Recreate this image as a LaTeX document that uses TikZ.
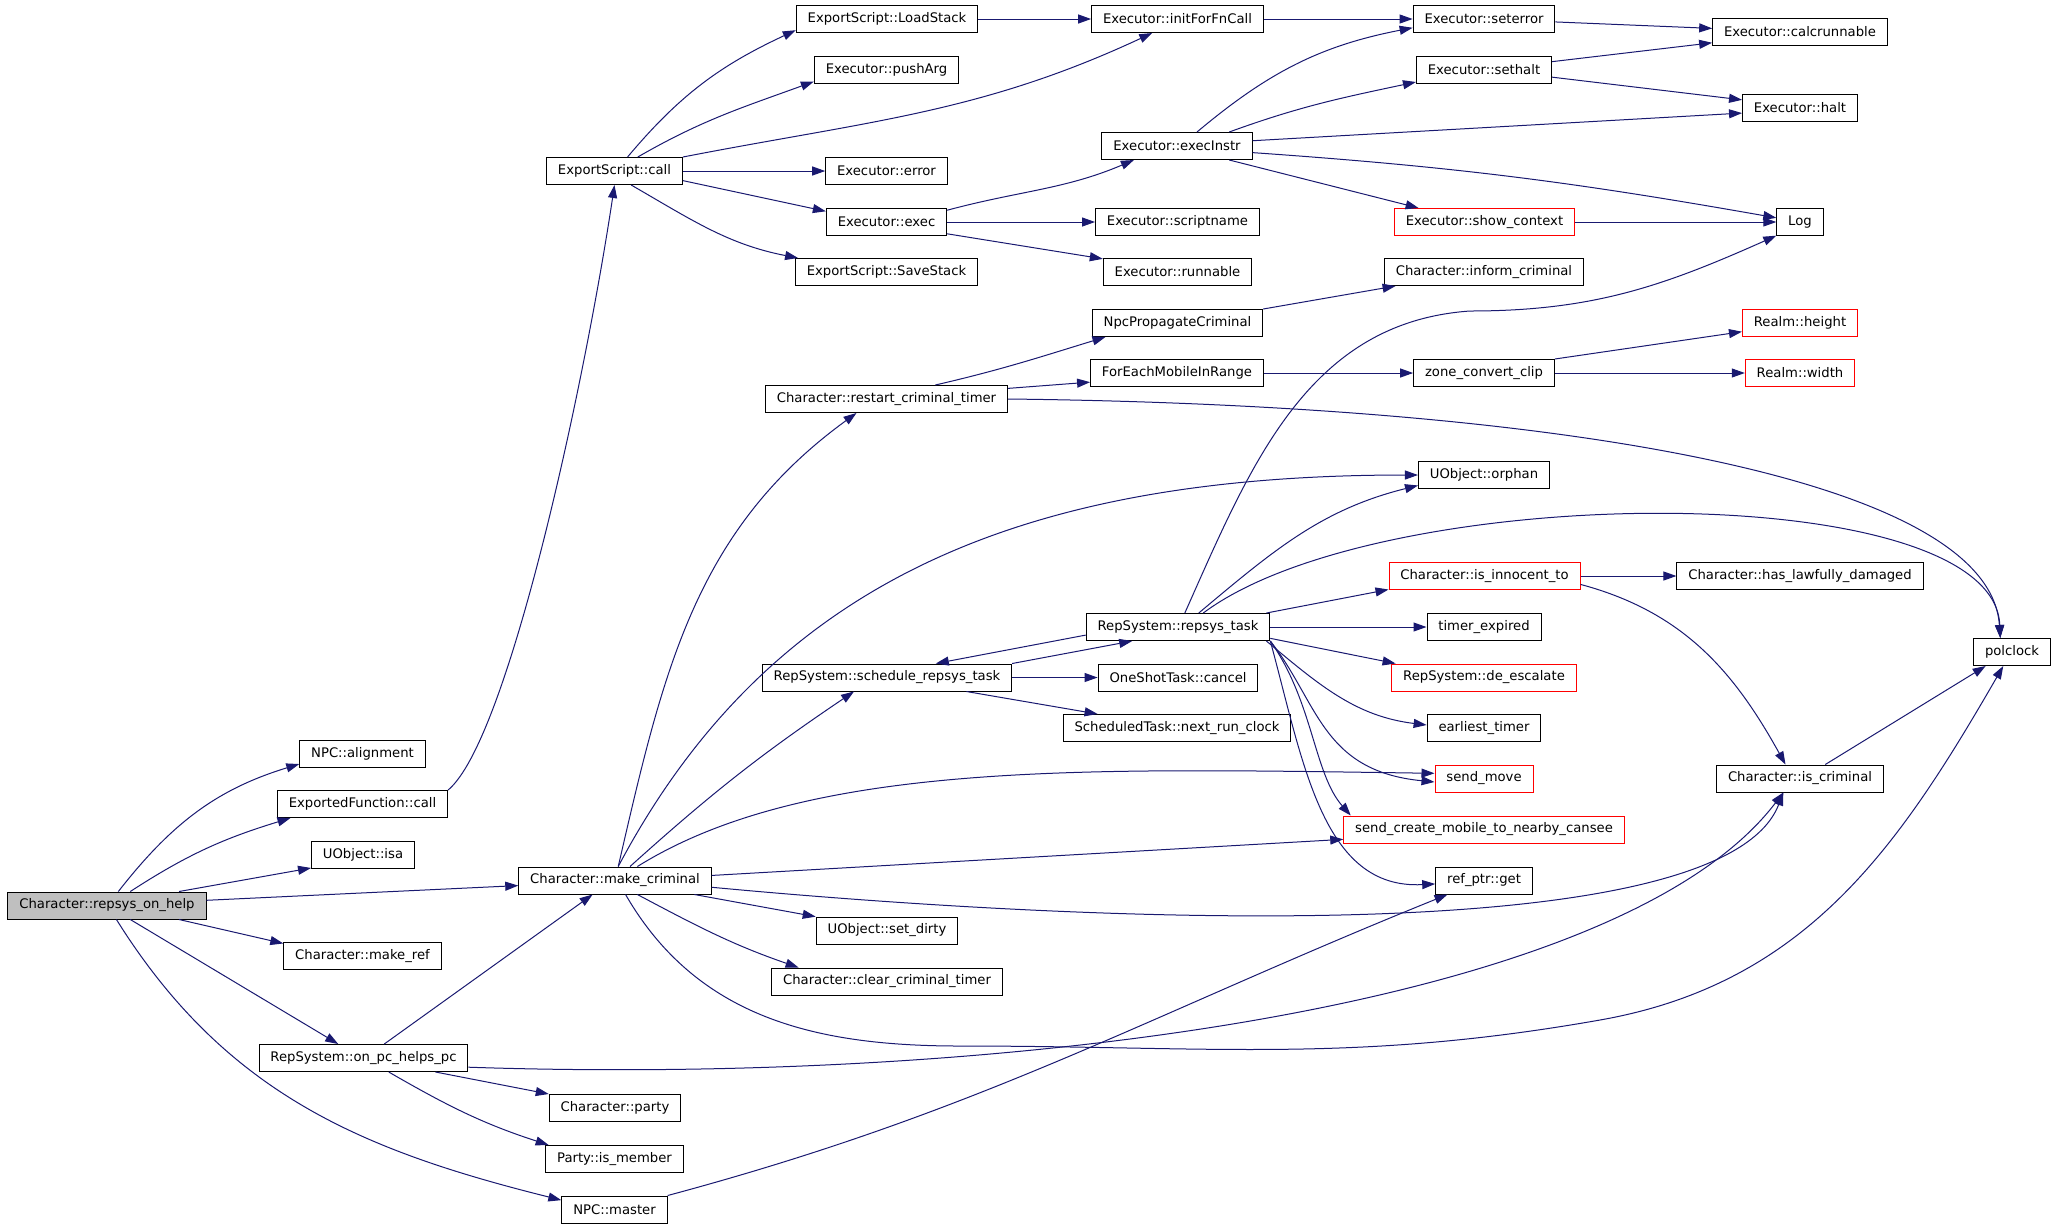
\documentclass[tikz,border=0pt]{standalone}
\usepackage{fontspec}
\setmainfont{DejaVu Sans}
\usetikzlibrary{arrows.meta}
\definecolor{edgeblue}{RGB}{25,25,112}
\definecolor{rootgray}{RGB}{191,191,191}

\begin{document}
\begin{tikzpicture}[x=0.5pt,y=-0.5pt,
    fn/.style={draw,line width=0.5pt,inner xsep=5.7pt,inner ysep=0pt,minimum height=13.5pt,font=\fontsize{6.6}{8}\selectfont},
    hot/.style={fn,draw=red},
    root/.style={fn,fill=rootgray},
    call/.style={edgeblue,line width=0.5pt,-{Triangle[length=6.5pt,width=4.5pt]}}]
  \useasboundingbox (0,0) rectangle (2056,1228);

  \node[root] (r) at (107,905.5) {Character::repsys\_on\_help};

  \node[fn] (al) at (362.5,754) {NPC::alignment};
  \node[fn] (efc) at (362.5,804) {ExportedFunction::call};
  \node[fn] (isa) at (363,855) {UObject::isa};
  \node[fn] (mref) at (362.5,956) {Character::make\_ref};
  \node[fn] (oph) at (363.5,1058) {RepSystem::on\_pc\_helps\_pc};

  \node[fn] (esc) at (614.5,171) {ExportScript::call};
  \node[fn] (mc) at (615,880.5) {Character::make\_criminal};
  \node[fn] (party) at (615,1108) {Character::party};
  \node[fn] (ism) at (614.5,1159) {Party::is\_member};
  \node[fn] (nm) at (614.5,1209.5) {NPC::master};

  \node[fn] (ls) at (887,19) {ExportScript::LoadStack};
  \node[fn] (pa) at (886.5,70) {Executor::pushArg};
  \node[fn] (err) at (886.5,171) {Executor::error};
  \node[fn] (ex) at (886.5,222) {Executor::exec};
  \node[fn] (ss) at (886.5,272) {ExportScript::SaveStack};
  \node[fn] (rct) at (886.5,399) {Character::restart\_criminal\_timer};
  \node[fn] (srt) at (887,677.5) {RepSystem::schedule\_repsys\_task};
  \node[fn] (sd) at (887,930.5) {UObject::set\_dirty};
  \node[fn] (cct) at (887,981.5) {Character::clear\_criminal\_timer};

  \node[fn] (init) at (1177.5,19) {Executor::initForFnCall};
  \node[fn] (xi) at (1177,146) {Executor::execInstr};
  \node[fn] (sn) at (1177.5,222) {Executor::scriptname};
  \node[fn] (run) at (1177.5,272) {Executor::runnable};
  \node[fn] (npc) at (1177.5,323) {NpcPropagateCriminal};
  \node[fn] (fem) at (1177,373) {ForEachMobileInRange};
  \node[fn] (rt) at (1178,627) {RepSystem::repsys\_task};
  \node[fn] (osc) at (1178,677.5) {OneShotTask::cancel};
  \node[fn] (nrc) at (1177,728) {ScheduledTask::next\_run\_clock};

  \node[fn] (se) at (1484,19) {Executor::seterror};
  \node[fn] (sh) at (1484,70) {Executor::sethalt};
  \node[hot] (sc) at (1484.5,222) {Executor::show\_context};
  \node[fn] (inf) at (1484,272) {Character::inform\_criminal};
  \node[fn] (zcc) at (1484,373) {zone\_convert\_clip};
  \node[fn] (orph) at (1484,475) {UObject::orphan};
  \node[hot] (iit) at (1484.5,576) {Character::is\_innocent\_to};
  \node[fn] (te) at (1484,627) {timer\_expired};
  \node[hot] (de) at (1484,677.5) {RepSystem::de\_escalate};
  \node[fn] (et) at (1484,728) {earliest\_timer};
  \node[hot] (sm) at (1484,778.5) {send\_move};
  \node[hot] (scm) at (1484,829.5) {send\_create\_mobile\_to\_nearby\_cansee};
  \node[fn] (rpg) at (1484,880.5) {ref\_ptr::get};

  \node[fn] (cr) at (1800,32) {Executor::calcrunnable};
  \node[fn] (halt) at (1800,108) {Executor::halt};
  \node[fn] (log) at (1800,222) {Log};
  \node[hot] (rh) at (1800,322.5) {Realm::height};
  \node[hot] (rw) at (1800,373) {Realm::width};
  \node[fn] (hld) at (1800,576) {Character::has\_lawfully\_damaged};
  \node[fn] (icrim) at (1800,778.5) {Character::is\_criminal};

  \node[fn] (pc) at (2012,652) {polclock};

  % repsys_on_help
  \draw[call] (r.51) to[out=52,in=197] (al.189);
  \draw[call] (r.31) to[out=33,in=197] (efc.191);
  \draw[call] (r.11) -- (isa.194);
  \draw[call] (r.3) -- (mc.183);
  \draw[call] (r.-11) -- (mref.171);
  \draw[call] (r.-31) -- (oph.151);
  \draw[call] (r.-56) to[out=-58,in=166] (nm.170);

  \draw[call] (efc.north east) .. controls +(60,-50) and +(-30,200) .. (esc.south);

  % ExportScript::call
  \draw[call] (esc.47) to[out=50,in=205] (ls.187);
  \draw[call] (esc.31) to[out=30,in=200] (pa.189);
  \draw[call] (esc.north east) to[out=11,in=205] (init.209);
  \draw[call] (esc) -- (err);
  \draw[call] (esc.-8) -- (ex.170);
  \draw[call] (esc.-40) to[out=-30,in=169] (ss.171);

  \draw[call] (ls) -- (init);
  \draw[call] (init) -- (se);
  \draw[call] (xi.35) to[out=40,in=191] (se.187);
  \draw[call] (xi.15) to[out=20,in=192] (sh.190);
  \draw[call] (xi.4) -- (halt.185);
  \draw[call] (xi.-5) to[out=-4,in=170] (log.170);
  \draw[call] (xi.-15) -- (sc.168);
  \draw[call] (se) -- (cr);
  \draw[call] (sh.7) -- (cr.187);
  \draw[call] (sh.-6) -- (halt.172);
  \draw[call] (sc) -- (log);
  \draw[call] (ex.11) to[out=15,in=203] (xi.198);
  \draw[call] (ex) -- (sn);
  \draw[call] (ex.-11) -- (run.170);

  % restart_criminal_timer
  \draw[call] (rct.16) to[out=13,in=197] (npc.191);
  \draw[call] (rct.5) -- (fem.186);
  \draw[call] (rct.east) .. controls +(540,6) and +(-11,-162) .. (pc.130);
  \draw[call] (npc.north east) -- (inf.189);
  \draw[call] (fem) -- (zcc);
  \draw[call] (zcc.north east) -- (rh.189);
  \draw[call] (zcc) -- (rw);

  % make_criminal
  \draw[call] (mc.77) to[out=77,in=216] (rct.205);
  \draw[call] (mc.77) .. controls +(150,-283) and +(-400,0) .. (orph.west);
  \draw[call] (mc.43) to[out=42,in=214] (srt.203);
  \draw[call] (mc.32) .. controls +(170,-106) and +(-350,-5) .. (sm.174);
  \draw[call] (mc.3) -- (scm.184);
  \draw[call] (mc.-4) .. controls +(362,34) and +(-62,161) .. (icrim.220);
  \draw[call] (mc.-10) -- (sd.169);
  \draw[call] (mc.-32) to[out=-28,in=161] (cct.171);
  \draw[call] (mc.-53) to[out=-60,in=180] (960,1046) to[out=0,in=190] (1600,1020) to[out=10,in=240] (pc.238);

  % on_pc_helps_pc
  \draw[call] (oph.34) -- (mc.212);
  \draw[call] (oph.-11) -- (party.north west);
  \draw[call] (oph.-29) to[out=-30,in=162] (ism.168);
  \draw[call] (oph.-5) .. controls +(531,18) and +(-164,216) .. (icrim.220);

  \draw[call] (nm.north east) to[out=15,in=202] (rpg.201);

  % repsys_task
  \draw[call] (rt.64) to[out=66,in=184] (1470,311) to[out=0,in=204] (log.210);
  \draw[call] (rt.34) to[out=40,in=194] (orph.189);
  \draw[call] (rt.29) .. controls +(178,-133) and +(-6,-162) .. (pc.130);
  \draw[call] (rt.9) -- (iit.188);
  \draw[call] (rt) -- (te);
  \draw[call] (rt.-7) -- (de.171);
  \draw[call] (rt.-9) to[out=-40,in=173] (et.177);
  \draw[call] (rt.south east) .. controls +(48,61) and +(-113,-11) .. (sm.184);
  \draw[call] (rt.south east) .. controls +(43,61) and +(-37,-42) .. (scm.174);
  \draw[call] (rt.south east) .. controls +(33,121) and +(-113,6) .. (rpg.184);
  \draw[call] (rt.185) -- (srt.16);
  \draw[call] (srt.north east) -- (rt.197);
  \draw[call] (srt) -- (osc);
  \draw[call] (srt.-10) -- (nrc.170);

  \draw[call] (iit) -- (hld);
  \draw[call] (iit.-5) to[out=-15,in=119] (icrim.136);
  \draw[call] (icrim.29) -- (pc.208);
\end{tikzpicture}
\end{document}
